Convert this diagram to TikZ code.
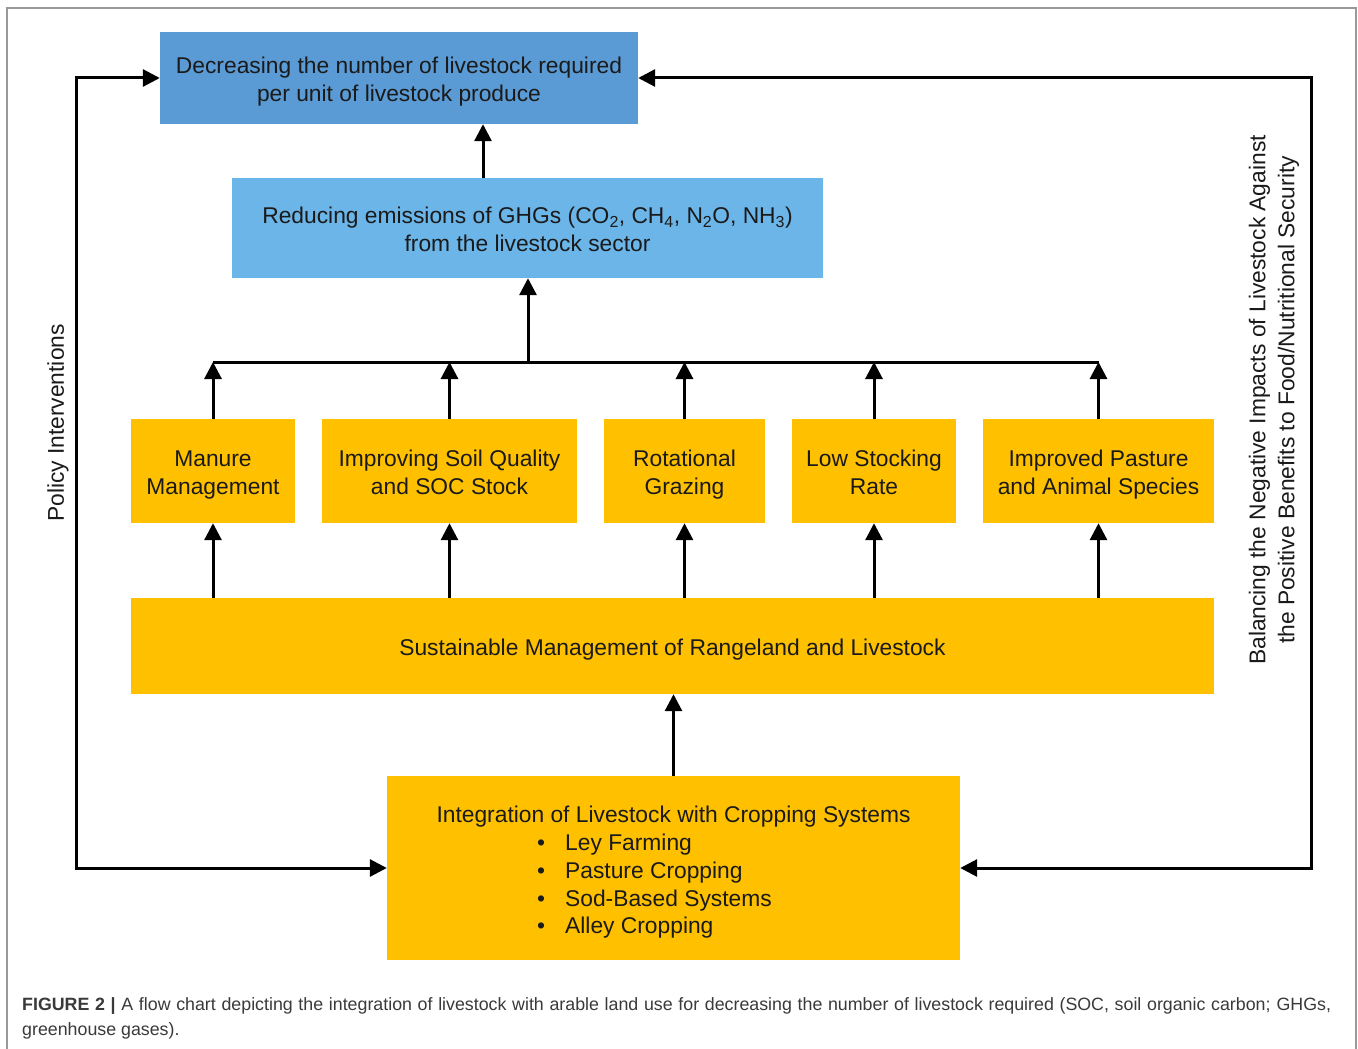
\documentclass[tikz,border=0pt]{standalone}
\usepackage{fontspec}
\setmainfont{Liberation Sans}
\usetikzlibrary{arrows.meta,calc}
\definecolor{dblue}{HTML}{5B9BD5}
\definecolor{lblue}{HTML}{6CB5E8}
\definecolor{gold}{HTML}{FFC000}
\definecolor{txt}{HTML}{1A1A1A}
\definecolor{captxt}{HTML}{3A3A3A}
\newcommand\ts{\rule{0pt}{27.6pt}}
\newcommand\bs{\rule[-8.4pt]{0pt}{1pt}}
\begin{document}
\begin{tikzpicture}[x=1pt,y=-1pt,
  box/.style={draw=none,inner sep=0pt,align=center,text=txt,
    font=\fontsize{22.8}{28}\selectfont},
  arr/.style={line width=3pt,-{Triangle[length=17pt,width=17pt]}},
  dbl/.style={line width=3pt,{Triangle[length=17pt,width=17pt]}-{Triangle[length=17pt,width=17pt]}},
  plain/.style={line width=3pt},
  lab/.style={inner sep=0pt,text=txt,align=center,font=\fontsize{22.8}{29}\selectfont},
  captext/.style={inner sep=0pt,anchor=base west,text=captxt,font=\fontsize{17.8}{20}\selectfont}]
\useasboundingbox (0,0) rectangle (1358,1049);
\fill[white] (0,0) rectangle (1358,1049);
\draw[gray!80,line width=1.5pt] (7,1049) -- (7,8) -- (1356,8) -- (1356,1049);

% boxes
\node[box,fill=dblue,minimum width=478pt,minimum height=92pt] (top) at (399,78)
  {\ts Decreasing the number of livestock required\\per unit of livestock produce\bs};
\node[box,fill=lblue,minimum width=591pt,minimum height=100pt] (ghg) at (527.5,228)
  {\ts Reducing emissions of GHGs (CO\textsubscript{2}, CH\textsubscript{4}, N\textsubscript{2}O, NH\textsubscript{3})\\from the livestock sector\bs};
\node[box,fill=gold,minimum width=164pt,minimum height=104pt] (m1) at (213,471) {\ts Manure\\Management\bs};
\node[box,fill=gold,minimum width=255pt,minimum height=104pt] (m2) at (449.5,471) {\ts Improving Soil Quality\\and SOC Stock\bs};
\node[box,fill=gold,minimum width=161pt,minimum height=104pt] (m3) at (684.5,471) {\ts Rotational\\Grazing\bs};
\node[box,fill=gold,minimum width=164pt,minimum height=104pt] (m4) at (874,471) {\ts Low Stocking\\Rate\bs};
\node[box,fill=gold,minimum width=231pt,minimum height=104pt] (m5) at (1098.5,471) {\ts Improved Pasture\\and Animal Species\bs};
\node[box,fill=gold,minimum width=1083pt,minimum height=96pt] (sust) at (672.5,646)
  {\ts Sustainable Management of Rangeland and Livestock\bs};
\node[box,fill=gold,minimum width=573pt,minimum height=184pt] (integ) at (673.5,868) {};
\node[lab] (ititle) at (673.5,817) {Integration of Livestock with Cropping Systems};
\node[lab,anchor=west,align=left,font=\fontsize{22.8}{27.7}\selectfont] (ilist) at (537,886.5)
  {\makebox[28pt][l]{•}Ley Farming\\\makebox[28pt][l]{•}Pasture Cropping\\\makebox[28pt][l]{•}Sod-Based Systems\\\makebox[28pt][l]{•}Alley Cropping};

% helper coordinates
\coordinate (c1) at (483,0);
\coordinate (bus) at (528,362);
\coordinate (L) at (76,0);
\coordinate (R) at (1311,0);

% connectors
\draw[arr] (ghg.north -| c1) -- (top.south -| c1);
\draw[arr] (bus) -- (bus |- ghg.south);
\draw[plain] (m1 |- bus) -- (m5 |- bus);
\foreach \m in {m1,m2,m3,m4,m5} {
  \draw[arr] (\m.north) -- (\m |- bus);
  \draw[arr] (\m |- sust.north) -- (\m.south);
}
\draw[arr] (integ.north) -- (integ.north |- sust.south);
\draw[dbl] (top.west) -- (top.west -| L) -- (L |- integ.west) -- (integ.west);
\draw[dbl] (top.east) -- (top.east -| R) -- (R |- integ.west) -- (integ.east);

% side labels
\node[lab,rotate=90] (pol) at (58,423) {Policy Interventions};
\node[lab,rotate=90] (bal) at (1274,400) {Balancing the Negative Impacts of Livestock Against\\the Positive Benefits to Food/Nutritional Security};

% caption
\node[captext] (cap1) at (22,1010) {\makebox[1309pt][s]{\textbf{FIGURE 2 |} A flow chart depicting the integration of livestock with arable land use for decreasing the number of livestock required (SOC, soil organic carbon; GHGs,}};
\node[captext] (cap2) at (22,1035) {greenhouse gases).};
\end{tikzpicture}
\end{document}
